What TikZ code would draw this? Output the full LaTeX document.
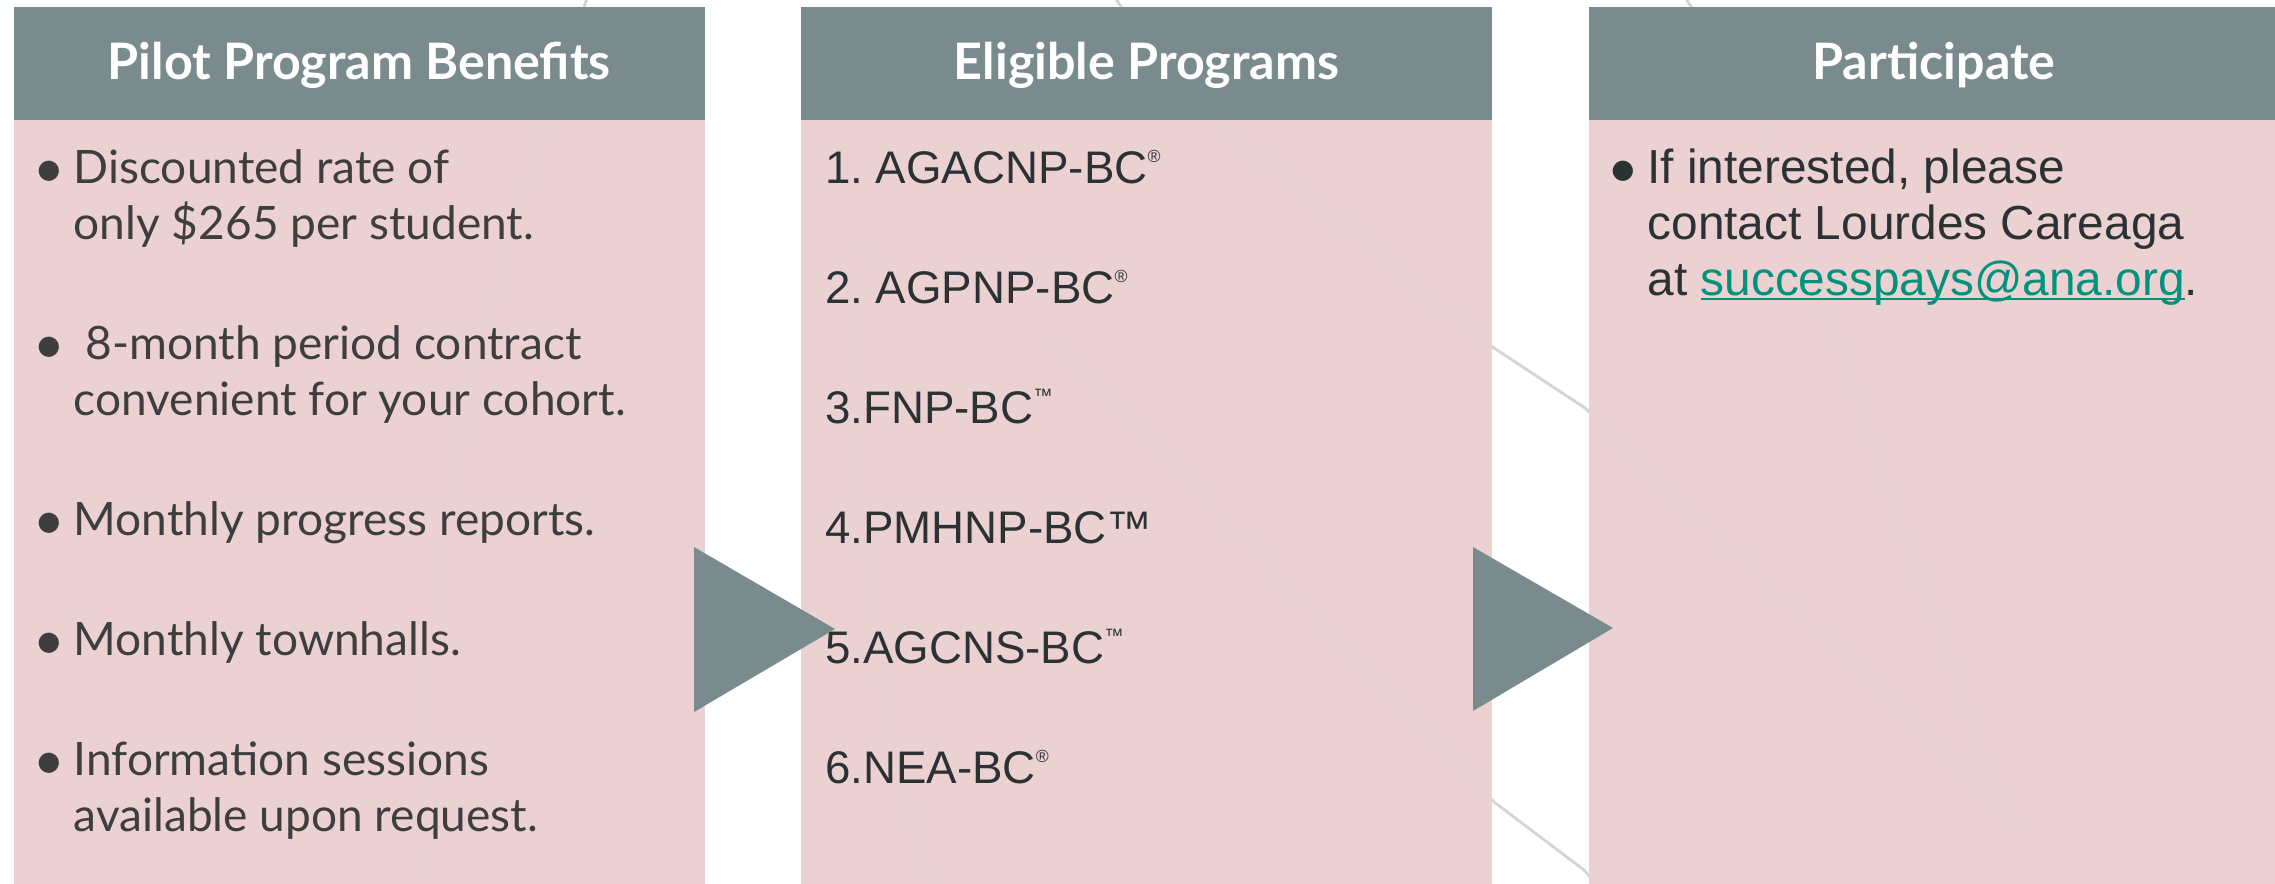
\documentclass[tikz,border=0pt]{standalone}
\usepackage{fontspec}
\setmainfont{Lato}
\newfontfamily\progfont{Liberation Sans}
\newfontfamily\bulfont{Lato}
\usetikzlibrary{positioning}
\definecolor{headgray}{RGB}{122,139,142}
\definecolor{boxpink}{RGB}{235,208,209}
\definecolor{bodyink}{RGB}{62,62,62}
\definecolor{listink}{RGB}{44,50,52}
\definecolor{linkteal}{RGB}{0,146,124}
\definecolor{bgline}{RGB}{212,212,212}
\frenchspacing
\newcommand{\bul}{\makebox[0.37cm][l]{\hspace{-0.03cm}\raisebox{-0.04cm}{\bulfont\fontsize{15.5}{15.5}\selectfont\textbullet}}}
\newcommand{\regmark}{\raisebox{6pt}{\fontsize{5}{5}\selectfont ®}}
\newcommand{\tmmark}{\raisebox{6pt}{\fontsize{5.5}{5.5}\selectfont ™}}
\newcommand{\maillink}[1]{\textcolor{linkteal}{\setbox0\hbox{#1}\rlap{\rule[-0.05cm]{\wd0}{0.018cm}}\box0}}
\tikzset{
  panel/.style={fill=boxpink, fill opacity=0.97, minimum width=6.91cm, minimum height=8.9cm, inner sep=0pt},
  header/.style={fill=headgray, text=white, font=\fontsize{14.3}{17}\selectfont\bfseries,
    minimum width=6.91cm, minimum height=1.13cm, inner sep=0pt, text height=0.36cm, text depth=0.03cm},
  bodytxt/.style={text=bodyink, font=\fontsize{13.1}{15.93}\selectfont, inner sep=0pt},
  listtxt/.style={text=listink, font=\progfont\fontsize{13}{15.93}\selectfont, inner sep=0pt},
  chevron/.style={fill=headgray},
  bgstroke/.style={draw=bgline, line width=0.8pt}
}

\begin{document}
\begin{tikzpicture}
\useasboundingbox (0,0) rectangle (22.75,-8.84);
% faint lines of the slide behind the panels
\draw[bgstroke] (5.9,0.1) .. controls (4.8,-3.0) and (4.1,-6.0) .. (4.22,-9.0);
\draw[bgstroke] (8.65,-2.42) .. controls (8.4,-5.0) and (8.8,-7.5) .. (9.4,-9.0);
\draw[bgstroke] (12.07,-1.13) -- (14.94,-3.48) -- (15.85,-4.08) -- (20.16,-8.23);
\draw[bgstroke] (10.51,-3.38) -- (14.94,-8.02) -- (15.84,-8.70) -- (16.1,-9.0);
\draw[bgstroke] (17.60,-1.24) -- (20.07,-8.23);
\draw[bgstroke] (11.1,0.1) -- (11.3,-0.2);
\draw[bgstroke] (16.8,0.1) -- (17.0,-0.2);

% panels
\node[panel, anchor=north west] (box1) at (0.13,-0.06) {};
\node[panel, right=0.95cm of box1] (box2) {};
\node[panel, right=0.95cm of box2] (box3) {};

\node[header, below=0cm of box1.north] (hd1) {Pilot Program Benefits};
\node[header, below=0cm of box2.north] (hd2) {Eligible Programs};
\node[header, below=0cm of box3.north] (hd3) {Participate};

\node[bodytxt, below right=1.78cm and 0.23cm of box1.north west, anchor=base west] (list1) {%
  \begin{tabular}[t]{@{}l@{}l@{}}
  \bul & Discounted rate of\\
       & only \$265 per student.\\[0.64cm]
  \bul & \ 8-month period contract\\
       & convenient for your cohort.\\[0.64cm]
  \bul & Monthly progress reports.\\[0.64cm]
  \bul & Monthly townhalls.\\[0.64cm]
  \bul & Information sessions\\
       & available upon request.
  \end{tabular}};

\node[listtxt, below right=1.78cm and 0.24cm of box2.north west, anchor=base west] (list2) {%
  \begin{tabular}[t]{@{}l@{}}
  1. AGACNP-BC\regmark\\[0.64cm]
  2. AGPNP-BC\regmark\\[0.64cm]
  3.FNP-BC\tmmark\\[0.64cm]
  4.PMHNP-BC™\\[0.64cm]
  5.AGCNS-BC\tmmark\\[0.64cm]
  6.NEA-BC\regmark
  \end{tabular}};

\node[listtxt, font=\progfont\fontsize{13.6}{15.8}\selectfont,
  below right=1.78cm and 0.22cm of box3.north west, anchor=base west] (list3) {%
  \begin{tabular}[t]{@{}l@{}l@{}}
  \bul & If interested, please\\
       & contact Lourdes Careaga\\
       & at \maillink{successpays@ana.org}.
  \end{tabular}};

% chevrons between the panels
\fill[chevron] (6.94,-5.47) -- (6.94,-7.12) -- (8.35,-6.29) -- cycle;
\fill[chevron] (14.73,-5.47) -- (14.73,-7.11) -- (16.13,-6.28) -- cycle;
\end{tikzpicture}
\end{document}
